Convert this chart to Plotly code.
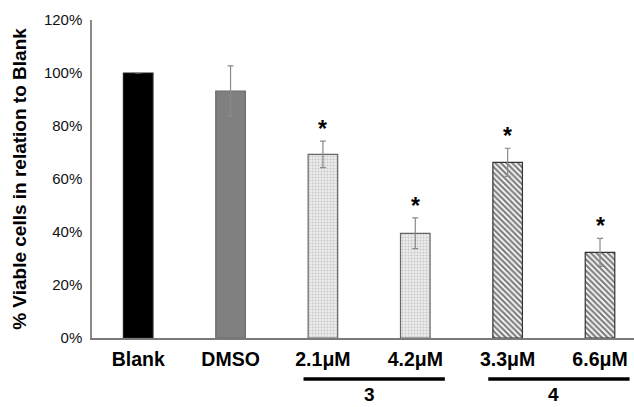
import plotly.graph_objects as go

categories = ["Blank", "DMSO", "2.1μM", "4.2μM", "3.3μM", "6.6μM"]
values = [100.0, 93.2, 69.3, 39.5, 66.3, 32.3]
errors = [0.0, 9.5, 5.0, 5.8, 5.3, 5.3]
significant = [False, False, True, True, True, True]
groups = [("3", 2, 3), ("4", 4, 5)]
y_ticks = [0, 20, 40, 60, 80, 100, 120]

FONT = "Liberation Sans, Arial, sans-serif"
x_idx = list(range(len(categories)))

# style per bar: (fill, outline, pattern shape, pattern colour, pattern size, solidity)
styles = {
    "Blank": ("#000000", "#222222", "", "#000000", 6, 0.3),
    "DMSO": ("#808080", "#6a6a6a", "", "#000000", 6, 0.3),
    "dots": ("#ececec", "#666666", ".", "#a0a0a0", 3, 0.35),
    "hatch": ("#ffffff", "#333333", "\\", "#000000", 4, 0.55),
}
bar_style = ["Blank", "DMSO", "dots", "dots", "hatch", "hatch"]

fig = go.Figure()
for key, (fill, outline, shp, fg, sz, sol) in styles.items():
    idx = [i for i in x_idx if bar_style[i] == key]
    fig.add_trace(go.Bar(
        x=idx, y=[values[i] for i in idx], width=0.32,
        marker=dict(color=fill, line=dict(color=outline, width=1.2),
                    pattern=dict(shape=shp, fgcolor=fg, bgcolor=fill, size=sz, solidity=sol)),
        error_y=dict(type="data", array=[errors[i] for i in idx], color="#8a8a8a",
                     thickness=1.2, width=3),
        showlegend=False,
    ))

annotations = []
for i, (v, e, s) in enumerate(zip(values, errors, significant)):
    if s:
        annotations.append(dict(x=i, y=v + e, xref="x", yref="y", text="<b>*</b>",
                                showarrow=False, yanchor="bottom", yshift=-3,
                                font=dict(family=FONT, size=23, color="#000")))

shapes = []
for name, i0, i1 in groups:
    shapes.append(dict(type="line", xref="x", yref="paper", x0=i0 - 0.21, x1=i1 + 0.32,
                       y0=-0.129, y1=-0.129, line=dict(color="#000", width=3.5)))
    annotations.append(dict(x=(i0 + i1) / 2, y=-0.217, xref="x", yref="paper",
                            text="<b>%s</b>" % name, showarrow=False, yanchor="bottom",
                            font=dict(family=FONT, size=19, color="#000")))

fig.update_layout(
    width=634, height=407,
    margin=dict(l=92, r=0, t=20, b=69),
    plot_bgcolor="white", paper_bgcolor="white",
    font=dict(family=FONT, color="#000"),
    shapes=shapes, annotations=annotations,
    barmode="overlay",
)
fig.update_xaxes(
    range=[-0.5, 5.368], tickmode="array", tickvals=x_idx,
    ticktext=["<b>%s</b>" % c for c in categories],
    tickfont=dict(family=FONT, size=19.5, color="#000"),
    showline=True, linecolor="#7a7a7a", linewidth=1.5, ticks="", showgrid=False,
    ticklabelstandoff=3, zeroline=False,
)
fig.update_yaxes(
    range=[0, 120], tickmode="array", tickvals=y_ticks,
    ticktext=["%d%%" % t for t in y_ticks],
    tickfont=dict(family=FONT, size=15, color="#111"),
    showline=True, linecolor="#8a8a8a", linewidth=1.5, ticks="", showgrid=False,
    zeroline=False, ticklabelstandoff=5,
    title=dict(text="<b>% Viable cells in relation to Blank</b>", standoff=12,
               font=dict(family=FONT, size=19, color="#000")),
    automargin=False,
)

fig.write_html("out.html")
